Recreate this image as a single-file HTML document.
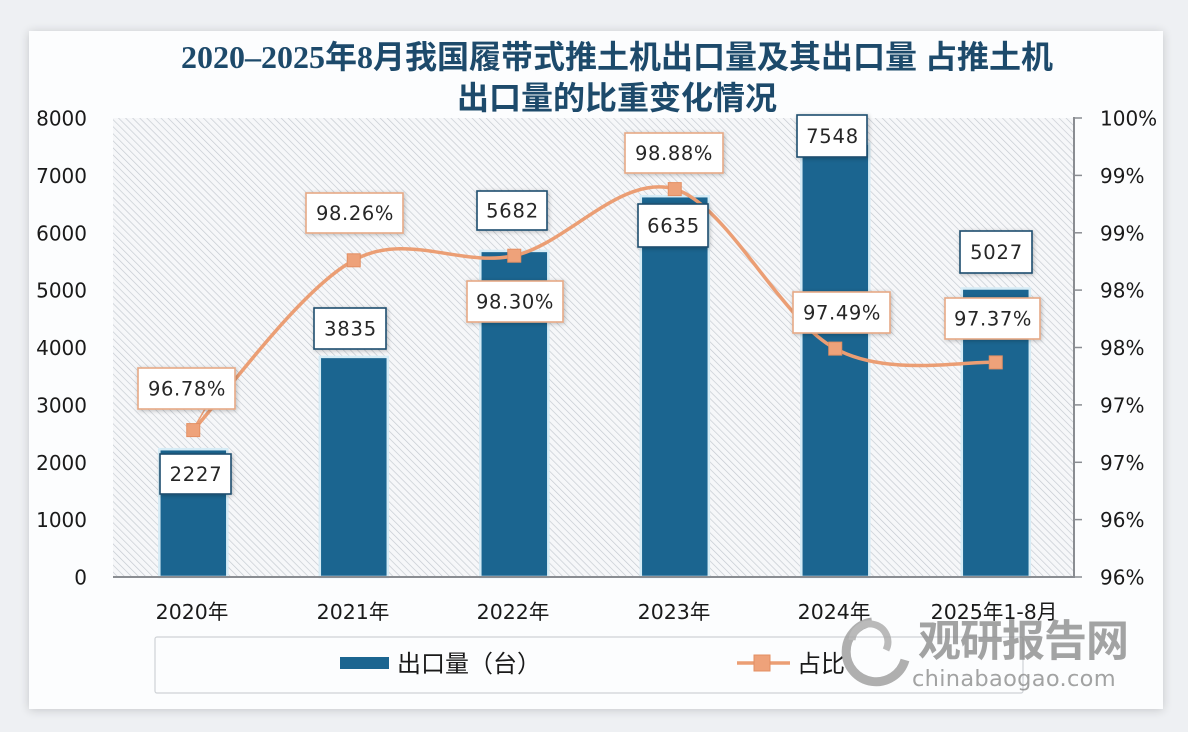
<!DOCTYPE html>
<html>
<head>
<meta charset="utf-8">
<style>
html,body{margin:0;padding:0;background:#eef0f3;}
svg{display:block;}
</style>
</head>
<body>
<svg width="1188" height="732" viewBox="0 0 1188 732" xmlns="http://www.w3.org/2000/svg">
  <defs>
    <pattern id="hatch" patternUnits="userSpaceOnUse" width="5" height="5" patternTransform="rotate(-45)">
      <rect width="5" height="5" fill="#f6f7f9"/>
      <line x1="0" y1="0" x2="0" y2="5" stroke="#c3c8cf" stroke-width="1.3"/>
    </pattern>
    <filter id="cardsh" x="-5%" y="-5%" width="110%" height="110%">
      <feGaussianBlur in="SourceAlpha" stdDeviation="5"/>
      <feOffset dx="0" dy="1"/>
      <feComponentTransfer><feFuncA type="linear" slope="0.18"/></feComponentTransfer>
      <feMerge><feMergeNode/><feMergeNode in="SourceGraphic"/></feMerge>
    </filter>
    <filter id="boxsh" x="-20%" y="-20%" width="140%" height="140%">
      <feGaussianBlur in="SourceAlpha" stdDeviation="2"/>
      <feOffset dx="1" dy="1"/>
      <feComponentTransfer><feFuncA type="linear" slope="0.25"/></feComponentTransfer>
      <feMerge><feMergeNode/><feMergeNode in="SourceGraphic"/></feMerge>
    </filter>
  </defs>

  <!-- background + card -->
  <rect x="0" y="0" width="1188" height="732" fill="#eef0f3"/>
  <rect x="29" y="31" width="1134" height="678" fill="#fcfdfe" filter="url(#cardsh)"/>

  <!-- title -->
  <g font-family="'Liberation Serif','Noto Sans CJK SC',serif" font-weight="bold" fill="#1d4a6b" font-size="32" text-anchor="middle">
    <text x="617" y="68">2020–2025年8月我国履带式推土机出口量及其出口量 占推土机</text>
    <text x="617" y="109" font-family="'Noto Sans CJK SC',sans-serif">出口量的比重变化情况</text>
  </g>

  <!-- plot area hatch -->
  <rect x="113" y="118" width="961" height="459" fill="url(#hatch)"/>

  <!-- bars -->
  <g fill="#1b6590" stroke="#d6ecf6" stroke-width="2.5">
    <rect x="159.3" y="449.2" width="68" height="127.8"/>
    <rect x="319.8" y="356.9" width="68" height="220.1"/>
    <rect x="480.3" y="250.9" width="68" height="326.1"/>
    <rect x="640.8" y="196.2" width="68" height="380.8"/>
    <rect x="801.3" y="143.7" width="68" height="433.3"/>
    <rect x="961.8" y="288.5" width="68" height="288.5"/>
  </g>

  <!-- axes -->
  <line x1="113" y1="577" x2="1075" y2="577" stroke="#8a8d92" stroke-width="2"/>
  <line x1="1074" y1="117" x2="1074" y2="578" stroke="#8a8d92" stroke-width="2"/>
  <g stroke="#8a8d92" stroke-width="1.5">
    <line x1="1074" y1="118" x2="1082" y2="118"/>
    <line x1="1074" y1="175.4" x2="1082" y2="175.4"/>
    <line x1="1074" y1="232.8" x2="1082" y2="232.8"/>
    <line x1="1074" y1="290.1" x2="1082" y2="290.1"/>
    <line x1="1074" y1="347.5" x2="1082" y2="347.5"/>
    <line x1="1074" y1="404.9" x2="1082" y2="404.9"/>
    <line x1="1074" y1="462.3" x2="1082" y2="462.3"/>
    <line x1="1074" y1="519.6" x2="1082" y2="519.6"/>
    <line x1="1074" y1="577" x2="1082" y2="577"/>
  </g>

  <!-- left axis labels -->
  <g font-family="'DejaVu Sans',sans-serif" font-size="20" fill="#1a1a1a" text-anchor="end">
    <text x="87" y="125.5">8000</text>
    <text x="87" y="182.9">7000</text>
    <text x="87" y="240.3">6000</text>
    <text x="87" y="297.6">5000</text>
    <text x="87" y="355">4000</text>
    <text x="87" y="412.4">3000</text>
    <text x="87" y="469.8">2000</text>
    <text x="87" y="527.1">1000</text>
    <text x="87" y="584.5">0</text>
  </g>
  <!-- right axis labels -->
  <g font-family="'DejaVu Sans',sans-serif" font-size="20" fill="#1a1a1a" text-anchor="start">
    <text x="1100" y="125.5">100%</text>
    <text x="1100" y="182.9">99%</text>
    <text x="1100" y="240.3">99%</text>
    <text x="1100" y="297.6">98%</text>
    <text x="1100" y="355">98%</text>
    <text x="1100" y="412.4">97%</text>
    <text x="1100" y="469.8">97%</text>
    <text x="1100" y="527.1">96%</text>
    <text x="1100" y="584.5">96%</text>
  </g>

  <!-- category labels -->
  <g font-family="'DejaVu Sans','Noto Sans CJK SC',sans-serif" font-size="20.5" fill="#1a1a1a" text-anchor="middle">
    <text x="192" y="619">2020年</text>
    <text x="353" y="619">2021年</text>
    <text x="513" y="619">2022年</text>
    <text x="674" y="619">2023年</text>
    <text x="834" y="619">2024年</text>
    <text x="994" y="619">2025年1-8月</text>
  </g>

  <!-- line -->
  <path d="M193.25,430.1 C219.7,401.8 299.5,289.4 353.75,260.3 C406.5,231.2 460.5,267.6 514.25,255.7 C567.5,243.8 620.7,173.6 674.75,189.1 C727.3,204.6 780.5,319.7 835.25,348.6 C887.5,377.5 968.2,360.1 995.75,362.4"
        fill="none" stroke="#eb9e74" stroke-width="3.5" stroke-linecap="round"/>
  <!-- leader lines -->
  <line x1="205" y1="409" x2="194" y2="428" stroke="#eb9e74" stroke-width="1.5"/>
  <g fill="#eea27a" stroke="#e38f63" stroke-width="1">
    <rect x="186.75" y="423.6" width="13" height="13"/>
    <rect x="347.25" y="253.8" width="13" height="13"/>
    <rect x="507.75" y="249.2" width="13" height="13"/>
    <rect x="668.25" y="182.6" width="13" height="13"/>
    <rect x="828.75" y="342.1" width="13" height="13"/>
    <rect x="989.25" y="355.9" width="13" height="13"/>
  </g>

  <!-- percent label boxes -->
  <g filter="url(#boxsh)" fill="#ffffff" stroke="#e6a985" stroke-width="1.6">
    <rect x="138" y="368" width="97" height="41"/>
    <rect x="306" y="193" width="97" height="40"/>
    <rect x="467" y="281" width="96" height="41"/>
    <rect x="625" y="133" width="98" height="40"/>
    <rect x="793" y="292" width="97" height="41"/>
    <rect x="945" y="298" width="95" height="41"/>
  </g>
  <g font-family="'DejaVu Sans',sans-serif" font-size="19.5" fill="#262626" text-anchor="middle" letter-spacing="0.6">
    <text x="187" y="395.5">96.78%</text>
    <text x="355" y="220">98.26%</text>
    <text x="515" y="308.5">98.30%</text>
    <text x="674" y="160">98.88%</text>
    <text x="842" y="319.5">97.49%</text>
    <text x="993" y="325.5">97.37%</text>
  </g>

  <!-- value label boxes -->
  <g filter="url(#boxsh)" fill="#ffffff" stroke="#1f4e6e" stroke-width="1.6">
    <rect x="160" y="454" width="71" height="40"/>
    <rect x="314" y="308" width="72" height="41"/>
    <rect x="477" y="191" width="70" height="39"/>
    <rect x="638" y="204" width="70" height="43"/>
    <rect x="797" y="115" width="70" height="42"/>
    <rect x="960" y="231" width="72" height="42"/>
  </g>
  <g font-family="'DejaVu Sans',sans-serif" font-size="19.5" fill="#262626" text-anchor="middle" letter-spacing="0.8">
    <text x="196" y="481">2227</text>
    <text x="350.5" y="335.5">3835</text>
    <text x="512.5" y="217.5">5682</text>
    <text x="673.5" y="232.5">6635</text>
    <text x="832.5" y="143">7548</text>
    <text x="996.5" y="259">5027</text>
  </g>

  <!-- legend -->
  <rect x="155" y="637" width="868" height="56" fill="#fcfdfe" stroke="#cfd2d6" stroke-width="1.2" rx="2"/>
  <rect x="340" y="657" width="49" height="12" fill="#1b6590"/>
  <text x="397" y="672" font-family="'Noto Sans CJK SC',sans-serif" font-size="24" fill="#1a1a1a">出口量（台）</text>
  <line x1="737" y1="663" x2="790" y2="663" stroke="#eb9e74" stroke-width="3.5"/>
  <rect x="754" y="655" width="16" height="16" fill="#eea27a" stroke="#e38f63" stroke-width="1"/>
  <text x="797" y="672" font-family="'Noto Sans CJK SC',sans-serif" font-size="24" fill="#1a1a1a">占比</text>

  <!-- watermark -->
  <g opacity="0.78">
    <path d="M872,622 A30,30 0 1,0 905,660" fill="none" stroke="#9a9a9a" stroke-width="9"/>
    <path d="M852,640 A18,18 0 1,1 886,650" fill="none" stroke="#a8a8a8" stroke-width="7"/>
    <text x="918" y="656" font-family="'Noto Sans CJK SC',sans-serif" font-weight="bold" font-size="43" fill="#8a8a8a" letter-spacing="-1">观研报告网</text>
    <text x="912" y="686" font-family="'DejaVu Sans',sans-serif" font-size="22.5" fill="#8a8a8a" letter-spacing="0.3">chinabaogao.com</text>
  </g>
</svg>
</body>
</html>
